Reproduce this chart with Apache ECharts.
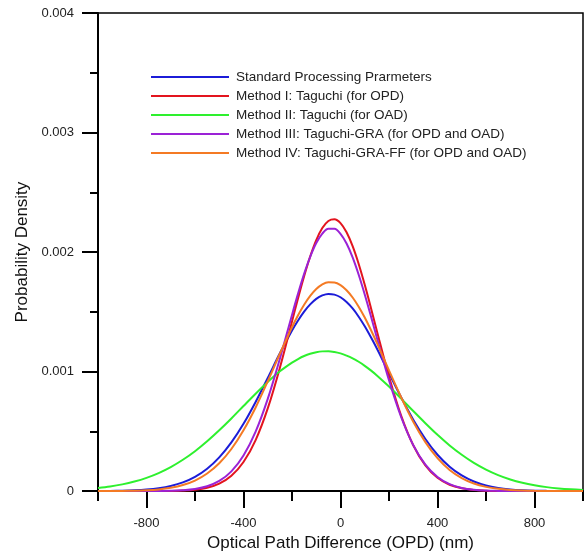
<!DOCTYPE html>
<html>
<head>
<meta charset="utf-8">
<script src="https://cdn.jsdelivr.net/npm/echarts@6/dist/echarts.min.js"></script>
<style>
html,body{margin:0;padding:0;background:#fff;}
#chart{width:585px;height:557px;}
</style>
</head>
<body>
<div id="chart"></div>
<script>
// OPD sample positions (nm)
const opd = [-1000,-950,-900,-850,-800,-750,-700,-650,-600,-550,-500,-450,-400,-350,-300,-250,-200,-175,-150,-125,-100,-75,-50,-25,0,25,50,75,100,125,150,200,250,300,350,400,450,500,550,600,650,700,750,800,850,900,950,1000];

const seriesNames = [
  'Standard Processing Prarmeters',
  'Method I: Taguchi (for OPD)',
  'Method II: Taguchi (for OAD)',
  'Method III: Taguchi-GRA (for OPD and OAD)',
  'Method IV: Taguchi-GRA-FF (for OPD and OAD)'
];

const standard = [0.000001,0.0000015,0.0000032,0.0000065,0.0000127,0.0000237,0.0000424,0.0000725,0.000119,0.000187,0.000282,0.000407,0.000563,0.000746,0.000947,0.001153,0.001344,0.001428,0.001502,0.001562,0.001608,0.001637,0.00165,0.001644,0.001622,0.001582,0.001528,0.001459,0.001379,0.001289,0.001193,0.000988,0.000785,0.000597,0.000436,0.000304,0.000204,0.000131,0.0000804,0.0000473,0.0000267,0.0000144,0.0000075,0.0000037,0.000002,0.000001,0,0];

const methodI = [0,0,0,0,0.0000001,0.0000005,0.0000015,0.0000043,0.0000113,0.0000275,0.0000617,0.000128,0.000243,0.000427,0.000692,0.001032,0.001419,0.001614,0.001798,0.001963,0.0021,0.002201,0.00226,0.002274,0.002242,0.002165,0.002049,0.0019,0.001726,0.001537,0.00134,0.000959,0.000632,0.000384,0.000215,0.000111,0.0000528,0.0000232,0.0000094,0.0000035,0.0000012,0,0,0,0,0,0,0];

const methodII = [0.0000262,0.0000388,0.0000563,0.0000799,0.000111,0.000151,0.000201,0.000262,0.000334,0.000417,0.000509,0.000608,0.000712,0.000815,0.000913,0.001002,0.001075,0.001105,0.00113,0.001149,0.001162,0.001169,0.00117,0.001164,0.001152,0.001134,0.001111,0.001082,0.001048,0.00101,0.000968,0.000875,0.000774,0.00067,0.000568,0.000471,0.000382,0.000304,0.000236,0.00018,0.000134,0.0000976,0.0000696,0.0000487,0.0000332,0.0000222,0.0000146,0.0000093];

const methodIII = [0,0,0,0,0.0000003,0.000001,0.0000027,0.0000073,0.0000178,0.0000403,0.0000847,0.000165,0.000298,0.000498,0.000772,0.001108,0.001474,0.001652,0.001817,0.00196,0.002075,0.002154,0.002195,0.002194,0.002152,0.002071,0.001955,0.00181,0.001645,0.001467,0.001283,0.000927,0.00062,0.000385,0.000221,0.000118,0.0000581,0.0000265,0.0000112,0.0000044,0.0000016,0,0,0,0,0,0,0];

const methodIV = [0.0000003,0.0000007,0.0000015,0.0000034,0.0000071,0.0000143,0.0000275,0.0000504,0.000088,0.000147,0.000233,0.000352,0.000509,0.0007,0.000919,0.001149,0.001371,0.001471,0.001559,0.001633,0.001691,0.00173,0.001748,0.001746,0.001724,0.001681,0.00162,0.001543,0.001452,0.00135,0.00124,0.00101,0.000785,0.000581,0.00041,0.000276,0.000177,0.000109,0.0000633,0.0000353,0.0000187,0.0000094,0.0000045,0.000002,0.000001,0,0,0];

const xMajorTicks = [-800,-400,0,400,800];
const yTickLabels = ['0','0.001','0.002','0.003','0.004'];

const colors = ['#1c1cd8','#e3141e','#2ef02e','#9b22d6','#f47a24'];
const values = [standard, methodI, methodII, methodIII, methodIV];

const chart = echarts.init(document.getElementById('chart'), null, {renderer:'canvas'});
const FONT = 'Liberation Sans, Arial, sans-serif';

const option = {
  animation:false,
  backgroundColor:'#fff',
  grid:{left:98,right:2,top:13,bottom:62,show:true,borderColor:'#000',borderWidth:1.5,backgroundColor:'transparent'},
  legend:{
    orient:'vertical',left:151,top:70,padding:0,
    icon:'rect',itemWidth:78,itemHeight:2,itemGap:5,
    textStyle:{fontFamily:FONT,fontSize:13.5,color:'#222',lineHeight:14,padding:[0,0,0,2]},
    data:seriesNames
  },
  xAxis:[
    {type:'value',min:-1000,max:1000,interval:200,position:'bottom',
     axisLine:{show:true,onZero:false,lineStyle:{color:'#000',width:2}},
     axisTick:{show:true,length:10,lineStyle:{color:'#000',width:2}},
     axisLabel:{show:false},splitLine:{show:false}},
    {type:'value',min:-1000,max:1000,position:'bottom',
     axisLine:{show:false,onZero:false},
     axisTick:{show:true,length:17,customValues:xMajorTicks,lineStyle:{color:'#000',width:2}},
     axisLabel:{show:true,customValues:xMajorTicks,margin:26,fontFamily:FONT,fontSize:13,color:'#222'},
     splitLine:{show:false},
     name:'Optical Path Difference (OPD) (nm)',nameLocation:'middle',nameGap:43,
     nameTextStyle:{fontFamily:FONT,fontSize:17,color:'#111'}}
  ],
  yAxis:{type:'value',min:0,max:0.004,interval:0.001,
    axisLine:{show:true,onZero:false,lineStyle:{color:'#000',width:2}},
    axisTick:{show:true,length:16,lineStyle:{color:'#000',width:2}},
    minorTick:{show:true,splitNumber:2,length:8,lineStyle:{color:'#000',width:2}},
    axisLabel:{margin:24,fontFamily:FONT,fontSize:13,color:'#222',
      formatter:function(v){const i=Math.round(v/0.001);return yTickLabels[i];}},
    splitLine:{show:false},
    name:'Probability Density',nameLocation:'middle',nameGap:67,
    nameTextStyle:{fontFamily:FONT,fontSize:17,color:'#111'}},
  series: seriesNames.map((n,i)=>({
    name:n,type:'line',xAxisIndex:0,showSymbol:false,smooth:0.35,
    lineStyle:{color:colors[i],width:2},itemStyle:{color:colors[i]},
    data:opd.map((x,j)=>[x,values[i][j]])
  }))
};
chart.setOption(option);
</script>
</body>
</html>
